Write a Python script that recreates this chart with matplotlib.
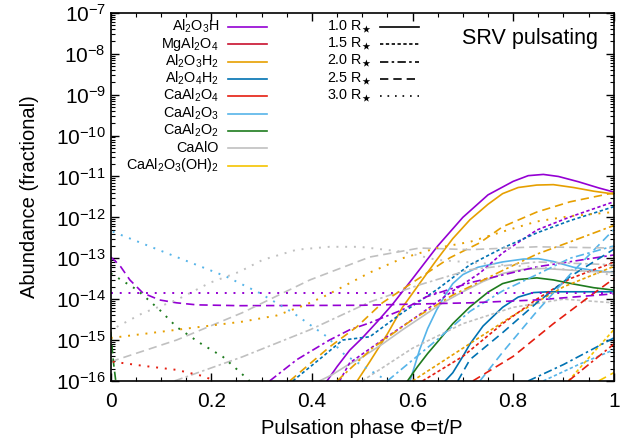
# Abundances of Al-bearing species vs pulsation phase (SRV pulsating model)
import numpy as np
import matplotlib.pyplot as plt
from matplotlib.ticker import MultipleLocator, LogLocator, NullFormatter

plt.rcParams['font.family'] = ['Liberation Sans', 'DejaVu Sans']
plt.rcParams['mathtext.fontset'] = 'custom'
plt.rcParams['mathtext.rm'] = 'Liberation Sans'
plt.rcParams['mathtext.it'] = 'Liberation Sans'
plt.rcParams['mathtext.fallback'] = 'cm'

# each curve: (phase, log10 abundance)
# --- 1.0 R* (solid)
al2o3h_10 = ([0.43, 0.45, 0.475, 0.5, 0.53, 0.56, 0.6, 0.65, 0.7, 0.75, 0.8, 0.83, 0.86, 0.89, 0.93, 0.97, 1.0],
             [-16.0, -15.65, -15.25, -14.95, -14.55, -14.13, -13.5, -12.7, -12.0, -11.45, -11.12, -10.98,
              -10.95, -11.0, -11.13, -11.28, -11.38])
al2o3h2_10 = ([0.49, 0.515, 0.55, 0.58, 0.615, 0.648, 0.68, 0.714, 0.75, 0.779, 0.81, 0.847, 0.88, 0.92, 0.96, 1.0],
              [-16.0, -15.53, -14.85, -14.2, -13.6, -13.04, -12.52, -12.06, -11.68, -11.42, -11.27, -11.21,
               -11.2, -11.27, -11.36, -11.43])
caal2o3_10 = ([0.595, 0.605, 0.614, 0.63, 0.648, 0.665, 0.68, 0.7, 0.73, 0.779, 0.82, 0.85, 0.88, 0.92, 0.96, 1.0],
              [-16.0, -15.6, -15.24, -14.72, -14.26, -13.9, -13.62, -13.4, -13.22, -13.09, -13.02, -13.01,
               -13.08, -13.22, -13.30, -13.35])
caalo_10 = ([0.415, 0.44, 0.47, 0.5, 0.54, 0.58, 0.62, 0.66, 0.7, 0.74, 0.78, 0.82, 0.86, 0.9, 0.95, 1.0],
            [-16.0, -15.85, -15.62, -15.42, -15.1, -14.75, -14.42, -14.09, -13.82, -13.57, -13.37, -13.27,
             -13.25, -13.28, -13.32, -13.35])
caal2o2_10 = ([0.59, 0.61, 0.63, 0.648, 0.68, 0.714, 0.75, 0.779, 0.81, 0.847, 0.88, 0.92, 0.96, 1.0],
              [-16.0, -15.65, -15.33, -15.07, -14.6, -14.19, -13.83, -13.62, -13.52, -13.48, -13.53, -13.63,
               -13.72, -13.78])
al2o4h2_10 = ([0.665, 0.68, 0.7, 0.714, 0.74, 0.779, 0.81, 0.84, 0.87, 1.0],
              [-16.0, -15.8, -15.4, -15.1, -14.66, -14.2, -13.95, -13.84, -13.82, -13.82])

# --- 1.5 R* (fine dots)
al2o3h_15 = ([0.455, 0.475, 0.54, 0.608, 0.674, 0.734, 0.779, 0.847, 0.913, 1.0],
             [-16.0, -15.56, -15.0, -14.43, -13.85, -13.36, -12.87, -12.31, -11.99, -11.62])
al2o4h2_15 = ([0.362, 0.421, 0.461, 0.515, 0.58, 0.648, 0.714, 0.779, 0.847, 0.913, 1.0],
              [-16.0, -15.41, -15.0, -14.92, -14.33, -13.77, -13.16, -12.75, -12.38, -12.08, -11.74])
al2o3h2_15 = ([0.6, 0.7, 0.8, 0.9, 1.0],
              [-16.0, -15.2, -14.4, -13.7, -13.2])
caal2o4_15 = ([0.62, 0.7, 0.779, 0.847, 0.913, 1.0],
              [-16.0, -15.4, -14.6, -14.0, -13.5, -13.1])
caalo_15 = ([0.5, 0.6, 0.7, 0.8, 0.9, 1.0],
            [-16.0, -15.2, -14.6, -14.2, -14.0, -14.09])
caal2o3_15 = ([0.86, 0.93, 1.0],
              [-16.0, -15.6, -15.24])
caal2o3oh2_15 = ([0.91, 0.96, 1.0],
                 [-16.0, -15.3, -14.75])

# --- 2.0 R* (dash-dot)
al2o3h_20 = ([0.316, 0.37, 0.435, 0.475, 0.515, 0.58, 0.628, 0.714, 0.847, 1.0],
             [-16.0, -15.48, -15.0, -14.75, -14.58, -14.26, -13.94, -13.6, -13.21, -12.92])
al2o3h2_20 = ([0.45, 0.52, 0.6, 0.68, 0.779, 0.847, 0.913, 1.0],
              [-16.0, -15.2, -14.5, -13.9, -13.3, -12.9, -12.6, -12.2])
caal2o3_20 = ([0.55, 0.648, 0.714, 0.779, 0.847, 0.913, 1.0],
              [-16.0, -15.0, -14.3, -13.8, -13.4, -13.0, -12.7])
caalo_20 = ([0.127, 0.262, 0.396, 0.515, 0.614, 0.714, 0.847, 1.0],
            [-16.0, -15.41, -14.75, -14.07, -13.65, -13.28, -13.09, -13.16])
caal2o4_20 = ([0.91, 0.95, 1.0],
              [-16.0, -15.6, -15.1])
al2o4h2_20 = ([0.83, 0.9, 1.0],
              [-16.0, -15.6, -14.95])

# --- 2.5 R* (dashed)
al2o3h_25 = ([0.0, 0.01, 0.02, 0.038, 0.064, 0.097, 0.131, 0.171, 0.256, 0.5, 0.714, 0.847, 1.0],
             [-12.97, -13.08, -13.21, -13.53, -13.85, -14.02, -14.09, -14.14, -14.16, -14.15, -14.09, -14.02, -13.87])
al2o3h2_25 = ([0.356, 0.435, 0.489, 0.54, 0.608, 0.674, 0.734, 0.779, 0.847, 0.913, 1.0],
              [-16.0, -15.17, -14.68, -14.09, -13.53, -12.99, -12.62, -12.23, -11.87, -11.62, -11.40])
al2o4h2_25 = ([0.69, 0.714, 0.779, 0.847, 0.913, 1.0],
              [-16.0, -15.48, -14.82, -14.09, -13.45, -12.78])
caal2o3_25 = ([0.734, 0.779, 0.847, 0.913, 1.0],
              [-16.0, -15.3, -14.3, -13.4, -12.3])
caalo_25 = ([0.0, 0.131, 0.262, 0.396, 0.515, 0.614, 0.714, 0.847, 1.0],
            [-15.53, -15.0, -14.33, -13.53, -12.97, -12.75, -12.79, -12.72, -12.75])
caal2o4_25 = ([0.72, 0.8, 0.88, 0.95, 1.0],
              [-16.0, -15.4, -14.6, -13.95, -13.5])
caal2o2_25 = ([0.0, 0.005, 0.01],
              [-14.8, -15.5, -16.0])
caal2o3oh2_25 = ([0.97, 1.0],
                 [-16.0, -15.8])

# --- 3.0 R* (sparse dots)
al2o3h_30 = ([0.0, 0.25, 0.5, 0.75, 1.0],
             [-13.85, -13.85, -13.85, -13.85, -13.85])
caal2o3_30 = ([0.004, 0.131, 0.23, 0.296, 0.362, 0.43, 0.465, 0.55],
              [-12.35, -12.97, -13.45, -13.85, -14.33, -14.92, -15.36, -16.0])
caal2o2_30 = ([0.0, 0.052, 0.097, 0.131, 0.177, 0.223, 0.252, 0.276],
              [-13.37, -13.77, -14.26, -14.68, -15.07, -15.41, -15.73, -16.0])
caalo_30 = ([0.012, 0.064, 0.131, 0.197, 0.256, 0.302, 0.37, 0.435, 0.495, 0.58, 0.648, 0.779, 0.913, 1.0],
            [-14.68, -14.34, -14.02, -13.60, -13.33, -13.04, -12.79, -12.72, -12.72, -12.84, -13.04, -13.16, -13.28, -13.41])
al2o3h2_30 = ([0.0, 0.131, 0.262, 0.33, 0.385, 0.43, 0.515, 0.58, 0.648, 0.714, 0.779, 0.847, 0.913, 1.0],
              [-14.95, -14.75, -14.55, -14.4, -14.15, -13.9, -13.35, -13.0, -12.75, -12.6, -12.35, -12.1, -11.97, -11.87])
caal2o4_30 = ([0.004, 0.064, 0.131, 0.183, 0.207],
              [-15.53, -15.63, -15.73, -15.88, -16.0])

species = ['Al$_2$O$_3$H', 'MgAl$_2$O$_4$', 'Al$_2$O$_3$H$_2$', 'Al$_2$O$_4$H$_2$', 'CaAl$_2$O$_4$',
           'CaAl$_2$O$_3$', 'CaAl$_2$O$_2$', 'CaAlO', 'CaAl$_2$O$_3$(OH)$_2$']
colors = ['#9400d3', '#c8102e', '#e69f00', '#0072b2', '#e51e10',
          '#56b4e9', '#1e7b1e', '#c0c0c0', '#f5c400']
radii = ['1.0', '1.5', '2.0', '2.5', '3.0']
styles = ['-', (0, (2, 1.5)), (0, (5, 2, 1.5, 2)), (0, (5, 3)), (0, (1, 3.5))]

curves = [
    (al2o3h_10, 0, 0), (al2o3h2_10, 2, 0), (caal2o3_10, 5, 0), (caalo_10, 7, 0),
    (caal2o2_10, 6, 0), (al2o4h2_10, 3, 0),
    (al2o3h_15, 0, 1), (al2o4h2_15, 3, 1), (al2o3h2_15, 2, 1), (caal2o4_15, 4, 1),
    (caalo_15, 7, 1), (caal2o3_15, 5, 1), (caal2o3oh2_15, 8, 1),
    (al2o3h_20, 0, 2), (al2o3h2_20, 2, 2), (caal2o3_20, 5, 2), (caalo_20, 7, 2),
    (caal2o4_20, 4, 2), (al2o4h2_20, 3, 2),
    (al2o3h_25, 0, 3), (al2o3h2_25, 2, 3), (al2o4h2_25, 3, 3), (caal2o3_25, 5, 3),
    (caalo_25, 7, 3), (caal2o4_25, 4, 3), (caal2o2_25, 6, 3), (caal2o3oh2_25, 8, 3),
    (al2o3h_30, 0, 4), (caal2o3_30, 5, 4), (caal2o2_30, 6, 4), (caalo_30, 7, 4),
    (al2o3h2_30, 2, 4), (caal2o4_30, 4, 4),
]

fig = plt.figure(figsize=(6.4, 4.45), dpi=100)
ax = fig.add_axes([0.173, 0.144, 0.786, 0.827])

for (px, py), si, ri in curves:
    ax.plot(px, 10.0 ** np.array(py), color=colors[si], linestyle=styles[ri],
            lw=1.4 if ri == 4 else 1.2)

ax.set_yscale('log')
ax.set_xlim(0, 1)
ax.set_ylim(1e-16, 1e-7)
ax.xaxis.set_minor_locator(MultipleLocator(0.05))
ax.set_xticks([0, 0.2, 0.4, 0.6, 0.8, 1.0])
ax.set_xticklabels(['0', '0.2', '0.4', '0.6', '0.8', '1'])
ax.yaxis.set_major_locator(LogLocator(base=10, numticks=20))
ax.yaxis.set_minor_locator(LogLocator(base=10, subs=np.arange(2, 10), numticks=20))
ax.yaxis.set_minor_formatter(NullFormatter())
ax.tick_params(which='both', direction='in', top=True, right=True, labelsize=15)
ax.tick_params(which='major', length=6, width=1)
ax.tick_params(which='minor', length=3, width=0.8)
ax.tick_params(axis='x', pad=8)
for s in ax.spines.values():
    s.set_linewidth(1.2)

ax.set_xlabel('Pulsation phase \u03a6=t/P', fontsize=14.5, labelpad=6)
ax.set_ylabel('Abundance (fractional)', fontsize=14.5, labelpad=12)

ax.text(0.968, 0.96, 'SRV pulsating', transform=ax.transAxes, ha='right', va='top', fontsize=15.5)

# legends drawn gnuplot-style: label right-aligned, sample line to its right
row_y = 0.962 - 0.0471 * np.arange(len(species))
for lab, col, yy in zip(species, colors, row_y):
    ax.text(0.215, yy - 0.0105, lab, transform=ax.transAxes, ha='right', va='baseline', fontsize=10.4)
    ax.plot([0.233, 0.310], [yy, yy], transform=ax.transAxes, color=col, lw=1.2, clip_on=False)
for r, st, yy in zip(radii, styles, row_y):
    ax.text(0.519, yy - 0.0105, r + r' R$_\bigstar$', transform=ax.transAxes, ha='right', va='baseline',
            fontsize=10.4)
    ax.plot([0.535, 0.612], [yy, yy], transform=ax.transAxes, color='black', lw=1.2, linestyle=st,
            clip_on=False)

fig.savefig('out.png', dpi=100)
